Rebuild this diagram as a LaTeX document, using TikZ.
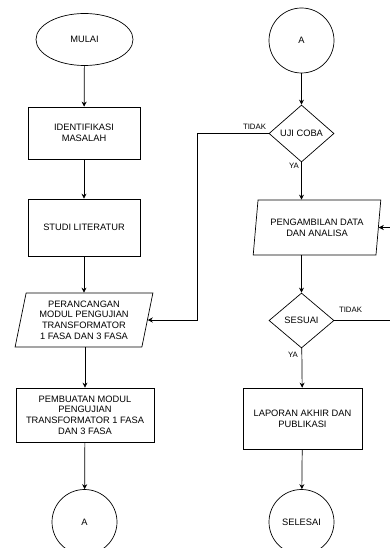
\documentclass[tikz,border=0pt]{standalone}
\usepackage{fontspec}
\setmainfont{Liberation Sans}
\usetikzlibrary{shapes.geometric,arrows.meta}
\begin{document}
\begin{tikzpicture}[x=1pt,y=-1pt,
  every node/.style={font=\fontsize{9.3}{10.6}\selectfont, align=center, inner sep=0pt},
  box/.style={draw, rectangle, line width=0.7pt},
  term/.style={draw, ellipse, line width=0.7pt},
  conn/.style={draw, circle, line width=0.7pt, minimum size=65pt},
  dec/.style={draw, diamond, line width=0.7pt},
  io/.style={draw, trapezium, trapezium left angle=77.5, trapezium right angle=102.5, trapezium stretches=true, line width=0.7pt},
  arr/.style={line width=0.7pt, -{Stealth[length=5pt,width=5pt]}},
  lbl/.style={font=\fontsize{7.8}{9}\selectfont}]
\useasboundingbox (0,0) rectangle (389,548);
% left column
\node[term, minimum width=97pt, minimum height=52pt] (mulai) at (84.5,39.5) {MULAI};
\node[box, minimum width=112pt, minimum height=52pt] (ident) at (84,133) {IDENTIFIKASI\\MASALAH};
\node[box, minimum width=112pt, minimum height=57pt] (studi) at (84,227.5) {STUDI LITERATUR};
\node[io, minimum width=138pt, minimum height=54pt] (p1) at (84,320) {PERANCANGAN\\MODUL PENGUJIAN\\TRANSFORMATOR\\1 FASA DAN 3 FASA};
\node[box, minimum width=138pt, minimum height=54pt] (buat) at (85,415) {PEMBUATAN MODUL\\PENGUJIAN\\TRANSFORMATOR 1 FASA\\DAN 3 FASA};
\node[conn] (a1) at (84.5,522) {A};
% right column
\node[conn] (a2) at (301.5,40.5) {A};
\node[dec, minimum width=65pt, minimum height=57pt] (uji) at (301.5,133.5) {UJI COBA};
\node[io, minimum width=128pt, minimum height=55pt] (p2) at (317,227.5) {PENGAMBILAN DATA\\DAN ANALISA};
\node[dec, minimum width=65pt, minimum height=55pt] (sesuai) at (301.5,320.5) {SESUAI};
\node[box, minimum width=119pt, minimum height=61pt] (lap) at (302.5,418.5) {LAPORAN AKHIR DAN\\PUBLIKASI};
\node[conn] (sel) at (301.5,522) {SELESAI};
% labels
\node[lbl] (t1) at (254.5,127) {TIDAK};
\node[lbl] (y1) at (294,166) {YA};
\node[lbl] (t2) at (350.5,310) {TIDAK};
\node[lbl] (y2) at (293,354.5) {YA};
% connectors
\draw[arr] (mulai) -- (ident);
\draw[arr] (ident) -- (studi);
\draw[arr] (studi.south) -- (studi.south |- p1.north);
\draw[arr] (p1.south -| buat.north) -- (buat.north);
\draw[arr] (buat) -- (a1);
\draw[arr] (a2) -- (uji);
\draw[arr] (uji.south) -- (uji.south |- p2.north);
\draw[arr] (sesuai.north |- p2.south) -- (sesuai.north);
\draw[arr] (sesuai) -- (lap);
\draw[arr] (lap) -- (sel);
\coordinate (l1) at (197,133.5);
\draw[arr] (uji.west) -- (l1) |- (p1.east);
\coordinate (r1) at (390,320.5);
\draw[arr] (sesuai.east) -- (r1) |- (p2.east);
\end{tikzpicture}
\end{document}
